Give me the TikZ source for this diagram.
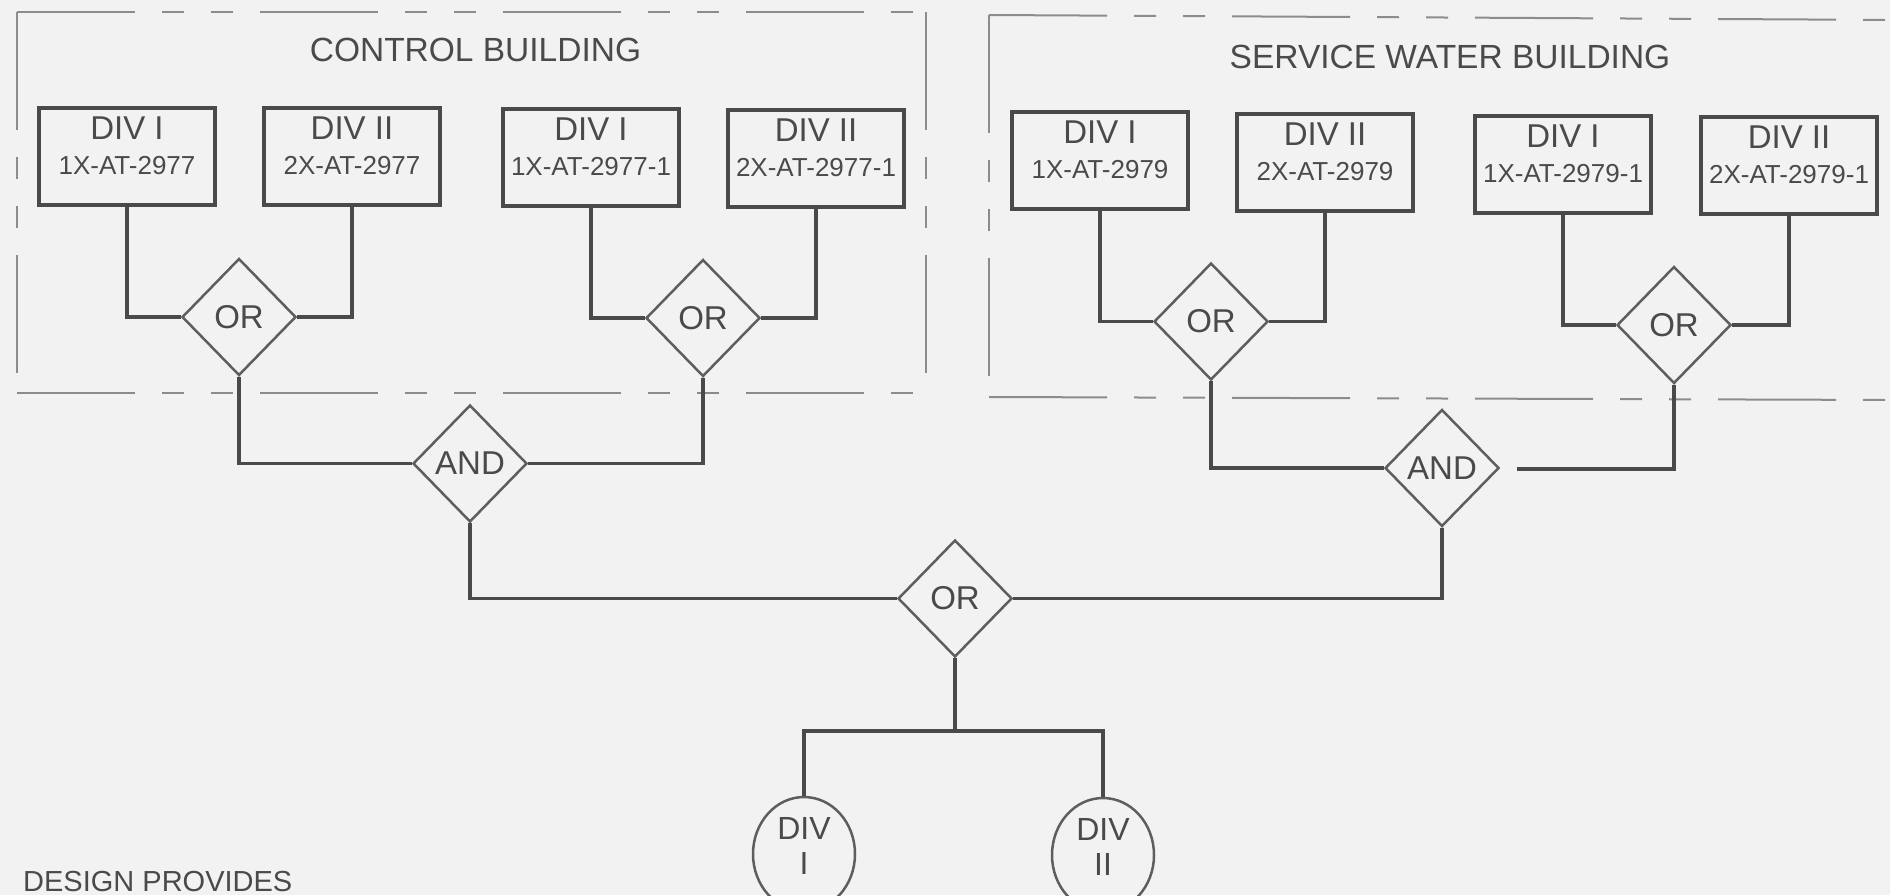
\documentclass[tikz,border=0pt]{standalone}
\usepackage{fontspec}
\setmainfont{Liberation Sans}
\usetikzlibrary{shapes.geometric}
\definecolor{bg}{HTML}{F2F2F2}
\definecolor{ink}{HTML}{4A4A4A}
\definecolor{gateink}{HTML}{5E5E5E}
\definecolor{framecol}{HTML}{8C8C8C}
\begin{document}
\begin{tikzpicture}[x=1pt,y=-1pt,
 box/.style={draw=ink, line width=4pt, minimum width=176pt, minimum height=97pt, inner sep=0pt, align=center, text=ink, font=\fontsize{26}{35}\selectfont, text depth=21pt},
 gate/.style={diamond, draw=gateink, line width=2.5pt, minimum width=114pt, minimum height=117pt, inner sep=0pt, text=ink, font=\fontsize{33}{35}\selectfont},
 outc/.style={ellipse, draw=gateink, line width=2.5pt, minimum width=102pt, minimum height=114pt, inner sep=0pt, align=center, text=ink, font=\fontsize{32}{35}\selectfont, text depth=16pt},
 wire/.style={draw=ink, line width=3.5pt},
 frm/.style={draw=framecol, line width=2pt, dash pattern=on 118pt off 27pt on 22pt off 27pt on 22pt off 27pt},
 ttl/.style={text=ink, font=\fontsize{33.5}{40}\selectfont, inner sep=0pt},
]
\newcommand{\bigdiv}[1]{{\fontsize{33}{35}\selectfont #1}}
\fill[bg] (0,0) rectangle (1890,895);
\useasboundingbox (0,0) rectangle (1890,895);

% building frames
\draw[frm] (17,12) -- (926,12);
\draw[frm] (17,393) -- (926,393);
\draw[frm] (17,12) -- (17,393);
\draw[frm] (926,12) -- (926,393);
\draw[frm] (989,15) -- (1900,20);
\draw[frm] (989,397) -- (1900,400);
\draw[frm] (989,15) -- (989,397);

\node[ttl] (t1) at (475.5,50) {CONTROL BUILDING};
\node[ttl] (t2) at (1450,56.5) {SERVICE WATER BUILDING};

% boxes
\node[box] (b1) at (127,156.5) {\bigdiv{DIV I}\\1X-AT-2977};
\node[box] (b2) at (352,156.5) {\bigdiv{DIV II}\\2X-AT-2977};
\node[box] (b3) at (591,157.5) {\bigdiv{DIV I}\\1X-AT-2977-1};
\node[box] (b4) at (816,158) {\bigdiv{DIV II}\\2X-AT-2977-1};
\node[box] (b5) at (1100,160.5) {\bigdiv{DIV I}\\1X-AT-2979};
\node[box] (b6) at (1325,162) {\bigdiv{DIV II}\\2X-AT-2979};
\node[box] (b7) at (1563,164) {\bigdiv{DIV I}\\1X-AT-2979-1};
\node[box] (b8) at (1789,165.5) {\bigdiv{DIV II}\\2X-AT-2979-1};

% gates
\node[gate] (or1) at (239,317) {OR};
\node[gate] (or2) at (703,318) {OR};
\node[gate] (or3) at (1211,321.5) {OR};
\node[gate] (or4) at (1674,325) {OR};
\node[gate] (and1) at (470,463.5) {AND};
\node[gate] (and2) at (1442,468) {AND};
\node[gate] (or5) at (955,598.5) {OR};

% outputs
\node[outc] (c1) at (804,854) {DIV\\I};
\node[outc] (c2) at (1103,855) {DIV\\II};

\coordinate (jn) at (955,731);
\coordinate (gp) at (1517,469);

% wires
\draw[wire] (b1.south) |- (or1.west);
\draw[wire] (b2.south) |- (or1.east);
\draw[wire] (b3.south) |- (or2.west);
\draw[wire] (b4.south) |- (or2.east);
\draw[wire] (b5.south) |- (or3.west);
\draw[wire] (b6.south) |- (or3.east);
\draw[wire] (b7.south) |- (or4.west);
\draw[wire] (b8.south) |- (or4.east);
\draw[wire] (or1.south) |- (and1.west);
\draw[wire] (or2.south) |- (and1.east);
\draw[wire] (or3.south) |- (and2.west);
\draw[wire] (or4.south) |- (gp);
\draw[wire] (and1.south) |- (or5.west);
\draw[wire] (and2.south) |- (or5.east);
\draw[wire] (or5.south) -- (jn);
\draw[wire] (c1.north) |- (jn);
\draw[wire] (c2.north) |- (jn);

\node[text=ink, font=\fontsize{29}{34}\selectfont, inner sep=0pt, anchor=base west] (dp) at (23,891) {DESIGN PROVIDES};
\end{tikzpicture}
\end{document}
